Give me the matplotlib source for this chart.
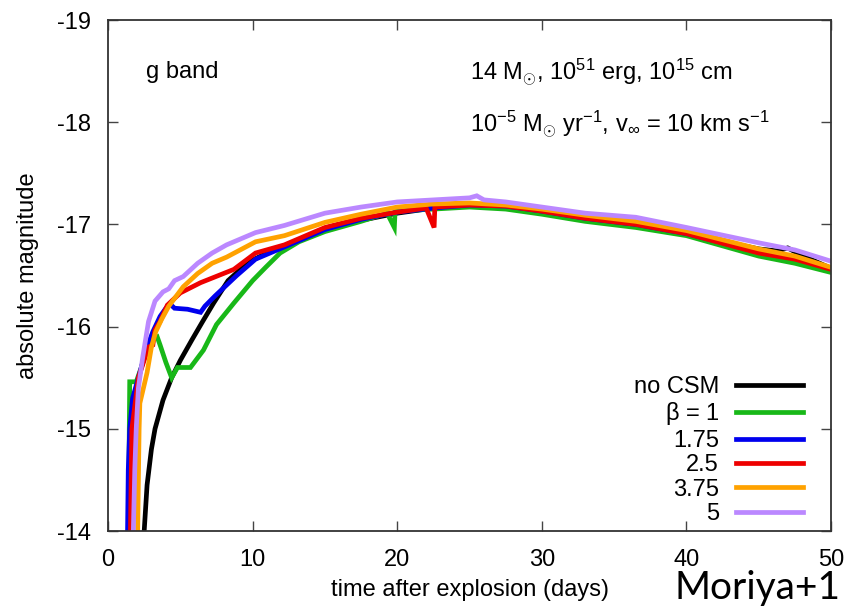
"""
g-band light curves of a 14 Msun SN with CSM (different beta values).
"""

import matplotlib.pyplot as plt

plt.rcParams['font.family'] = ['Liberation Sans', 'DejaVu Sans']
plt.rcParams['mathtext.fontset'] = 'custom'
plt.rcParams['mathtext.rm'] = 'Liberation Sans'
plt.rcParams['mathtext.it'] = 'Liberation Sans'
plt.rcParams['axes.unicode_minus'] = False

# Light curve data (days, absolute magnitude)
days_nocsm = [2.5, 2.7, 3.0, 3.25, 3.8, 4.4, 5.0, 5.8, 6.5, 7.3, 8.3, 9.7, 11, 13, 15,
              17.5, 20, 22.5, 25, 27.5, 30, 33, 36, 40, 43, 45, 46.3, 47, 47.8, 50]
mag_nocsm = [-14.0, -14.45, -14.8, -15.0, -15.28, -15.5, -15.67, -15.87, -16.04, -16.23,
             -16.45, -16.63, -16.72, -16.84, -16.94, -17.04, -17.11, -17.16, -17.18, -17.17,
             -17.13, -17.07, -17.0, -16.9, -16.82, -16.76, -16.74, -16.77, -16.71, -16.57]

days_b1 = [1.42, 1.47, 1.5, 1.95, 2.3, 2.7, 3.1, 3.4, 3.6, 4.0, 4.4, 4.8, 5.7, 6.6, 7.5,
           8.7, 10.0, 10.9, 11.9, 13.2, 15, 17.5, 19.3, 19.8, 19.85, 22.5, 25, 27.5, 30,
           33, 36.5, 40, 45, 47.5, 50]
mag_b1 = [-14.0, -15.0, -15.46, -15.46, -15.6, -15.8, -15.88, -15.9, -15.82, -15.65, -15.5,
          -15.6, -15.6, -15.77, -16.02, -16.23, -16.45, -16.58, -16.72, -16.83, -16.93,
          -17.03, -17.11, -16.97, -17.13, -17.15, -17.17, -17.15, -17.1, -17.03, -16.97,
          -16.89, -16.69, -16.62, -16.53]

days_b175 = [1.35, 1.4, 1.5, 1.7, 2.2, 2.7, 3.1, 3.6, 4.0, 4.3, 4.6, 5.5, 6.4, 6.7, 7.4,
             8.0, 8.9, 10.2, 12.2, 15, 17.5, 20, 22.5, 25, 27.5, 30, 33, 36.5, 40, 45,
             47.5, 50]
mag_b175 = [-14.0, -14.6, -15.0, -15.3, -15.55, -15.8, -15.95, -16.1, -16.18, -16.22,
            -16.18, -16.17, -16.14, -16.2, -16.3, -16.38, -16.5, -16.66, -16.78, -16.95,
            -17.05, -17.12, -17.16, -17.19, -17.18, -17.13, -17.06, -17.0, -16.91, -16.73,
            -16.67, -16.57]

days_b25 = [1.55, 1.65, 2.1, 2.8, 3.1, 3.25, 3.6, 4.1, 5.0, 6.4, 8.7, 10.2, 12.2, 15,
            17.5, 20, 22.0, 22.55, 22.6, 25, 27.5, 30, 33, 36.5, 40, 45, 47.5, 50]
mag_b25 = [-14.0, -15.0, -15.5, -15.8, -15.82, -15.97, -16.05, -16.21, -16.33, -16.43,
           -16.56, -16.72, -16.80, -16.97, -17.06, -17.12, -17.16, -16.97, -17.17, -17.19,
           -17.18, -17.13, -17.06, -17.0, -16.91, -16.72, -16.66, -16.56]

days_b375 = [2.05, 2.15, 2.2, 2.7, 3.0, 3.3, 3.7, 4.2, 5.2, 6.2, 7.2, 8.2, 10.2, 12.2, 15,
             17.5, 20, 22.5, 25, 27.5, 30, 33, 36.5, 40, 45, 47.5, 50]
mag_b375 = [-14.0, -15.0, -15.25, -15.55, -15.8, -15.95, -16.07, -16.2, -16.39, -16.52,
            -16.62, -16.68, -16.83, -16.89, -17.02, -17.1, -17.17, -17.2, -17.21, -17.19,
            -17.15, -17.09, -17.03, -16.94, -16.76, -16.69, -16.58]

days_b5 = [1.75, 1.85, 1.95, 2.1, 2.4, 2.8, 3.25, 3.8, 4.2, 4.6, 5.2, 6.2, 7.2, 8.2, 10.2,
           12.2, 15, 17.5, 20, 22.5, 25, 25.5, 26, 27.5, 30, 33, 36.5, 40, 45, 47.5, 50]
mag_b5 = [-14.0, -14.6, -15.0, -15.4, -15.7, -16.05, -16.25, -16.34, -16.37, -16.45,
          -16.49, -16.62, -16.72, -16.80, -16.92, -16.99, -17.11, -17.17, -17.22, -17.24,
          -17.26, -17.28, -17.24, -17.22, -17.17, -17.11, -17.07, -16.97, -16.82, -16.75,
          -16.64]

labels = ['no CSM', r'$\beta$ = 1', '1.75', '2.5', '3.75', '5']
colors = ['black', '#18b818', '#0000ee', '#ee0000', '#ffa200', '#bb88ff']

series = [(days_nocsm, mag_nocsm), (days_b1, mag_b1), (days_b175, mag_b175),
          (days_b25, mag_b25), (days_b375, mag_b375), (days_b5, mag_b5)]

fig = plt.figure(figsize=(8.52, 6.07), dpi=100)
ax = fig.add_axes([0.1268, 0.1252, 0.8486, 0.8418])

for (d, m), lab, c in zip(series, labels, colors):
    ax.plot(d, m, color=c, linewidth=3.4, label=lab, solid_joinstyle='miter')

ax.set_xlim(0, 50)
ax.set_ylim(-14, -19)
ax.set_xticks([0, 10, 20, 30, 40, 50])
ax.set_yticks([-14, -15, -16, -17, -18, -19])
ax.tick_params(direction='in', length=7, width=1, top=True, right=True,
               labelsize=17, colors='#444444', labelcolor='black')
ax.tick_params(axis='x', pad=13)
ax.tick_params(axis='y', pad=12)
for s in ax.spines.values():
    s.set_color('#333333')
    s.set_linewidth(1.3)

ax.set_xlabel('time after explosion (days)', fontsize=17, labelpad=6)
ax.set_ylabel('absolute magnitude', fontsize=17, labelpad=13)

ax.text(0.052, 0.898, 'g band', transform=ax.transAxes, fontsize=17, va='center')
ax.text(0.5, 0.898, r'14 M$_{\odot}$, 10$^{51}$ erg, 10$^{15}$ cm',
        transform=ax.transAxes, fontsize=17, va='center')
ax.text(0.5, 0.795, r'10$^{-5}$ M$_{\odot}$ yr$^{-1}$, v$_{\infty}$ = 10 km s$^{-1}$',
        transform=ax.transAxes, fontsize=17, va='center')

leg = ax.legend(loc='lower right', bbox_to_anchor=(0.961, 0.012), frameon=False,
                markerfirst=False, fontsize=17, handlelength=2.85, handletextpad=0.7,
                labelspacing=0.1, borderpad=0, borderaxespad=0)

fig.text(0.792, 0.014, 'Moriya+1', fontsize=28, family='Lato')

fig.savefig('out.png', dpi=100)
